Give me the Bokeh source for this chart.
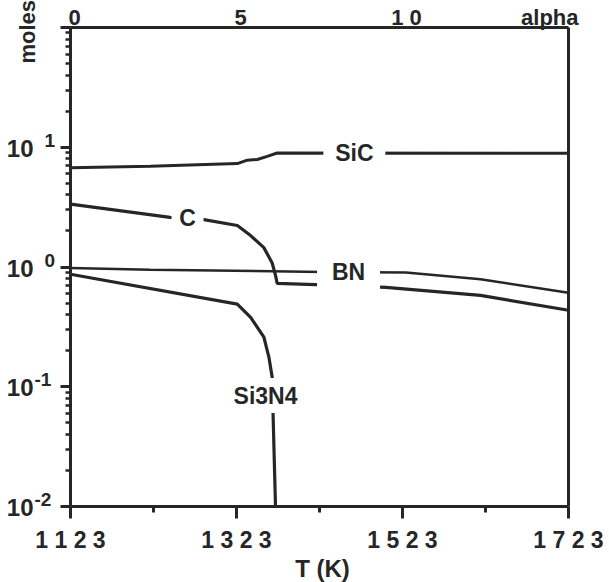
import math
from bokeh.plotting import figure
from bokeh.models import Range1d, FixedTicker, LogTicker, Label, LinearAxis
from bokeh.embed import file_html
from bokeh.resources import INLINE

# ---- data ----
sic_T = [1123, 1219, 1324, 1336, 1348, 1360, 1372, 1723]
sic_v = [6.75, 6.95, 7.3, 7.8, 7.9, 8.4, 8.95, 8.9]

c_T = [1123, 1243, 1282, 1324, 1340, 1356, 1366, 1370, 1372, 1427, 1503, 1617, 1723]
c_v = [3.35, 2.6, 2.5, 2.22, 1.83, 1.45, 1.08, 0.85, 0.73, 0.71, 0.675, 0.58, 0.435]

bn_T = [1123, 1219, 1427, 1527, 1617, 1723]
bn_v = [0.98, 0.95, 0.91, 0.90, 0.79, 0.61]

si3n4_T = [1123, 1324, 1340, 1356, 1362, 1366, 1367, 1370]
si3n4_v = [0.87, 0.49, 0.38, 0.26, 0.177, 0.12, 0.061, 0.01]

x_ticks = [1123, 1323, 1523, 1723]
x_minor = [1223, 1423, 1623]
x_tick_labels = ["1 1 2 3", "1 3 2 3", "1 5 2 3", "1 7 2 3"]
y_lo, y_hi = 0.01, 100
y_ticks = [0.01, 0.1, 1, 10]
y_exponents = ["-2", "-1", "0", "1"]
alpha_ticks = [0, 5, 10]
alpha_labels = ["0", "5", "1 0"]
alpha_end = 15
alpha_title = "alpha"
x_title = "T (K)"
y_title = "moles"
curve_names = ["SiC", "C", "BN", "Si3N4"]
label_T = [1465, 1264, 1458, 1358]
label_v = [9.0, 2.59, 0.90, 0.0845]

# ---- layout: the plotting box sits at these canvas pixels ----
INK = "#262626"
FONT = "Liberation Sans"
W, H = 609, 582
BOX_L, BOX_R, BOX_T, BOX_B = 70, 568, 27, 506

x0, x1 = x_ticks[0], x_ticks[-1]
kx = (x1 - x0) / (BOX_R - BOX_L)
ly0, ly1 = math.log10(y_lo), math.log10(y_hi)
ky = (ly1 - ly0) / (BOX_B - BOX_T)
xr = Range1d(x0 - BOX_L * kx, x1 + (W - BOX_R) * kx)
yr = Range1d(10 ** (ly0 - (H - BOX_B) * ky), 10 ** (ly1 + BOX_T * ky))
a_k = alpha_end / (BOX_R - BOX_L)
ar = Range1d(0 - BOX_L * a_k, alpha_end + (W - BOX_R) * a_k)

p = figure(width=W, height=H, x_range=xr, y_range=yr, y_axis_type="log",
           output_backend="svg", toolbar_location=None,
           min_border=0, min_border_left=0, min_border_right=0,
           min_border_top=0, min_border_bottom=0)
p.extra_x_ranges = {"alpha": ar}
p.background_fill_color = "white"
p.border_fill_color = "white"
p.outline_line_color = None
p.xgrid.visible = False
p.ygrid.visible = False

xa = p.xaxis[0]
xa.fixed_location = y_lo
xa.bounds = (x0, x1)
xa.ticker = FixedTicker(ticks=x_ticks, minor_ticks=x_minor)
xa.major_label_overrides = {t: s for t, s in zip(x_ticks, x_tick_labels)}
xa.axis_line_color = INK
xa.axis_line_width = 3
xa.major_tick_line_color = INK
xa.major_tick_line_width = 3
xa.minor_tick_line_color = INK
xa.minor_tick_line_width = 3
xa.major_tick_in = 0
xa.major_tick_out = 12
xa.minor_tick_in = 0
xa.minor_tick_out = 6
xa.major_label_text_font = FONT
xa.major_label_text_font_style = "bold"
xa.major_label_text_font_size = "23px"
xa.major_label_text_color = INK
xa.major_label_standoff = 8

ya = p.yaxis[0]
ya.fixed_location = x0
ya.bounds = (y_lo, y_hi)
ya.ticker = LogTicker(num_minor_ticks=10)
ya.major_label_text_color = None
ya.axis_line_color = INK
ya.axis_line_width = 3
ya.major_tick_line_color = INK
ya.major_tick_line_width = 3
ya.minor_tick_line_color = INK
ya.minor_tick_line_width = 2.5
ya.major_tick_in = 0
ya.major_tick_out = 10
ya.minor_tick_in = 0
ya.minor_tick_out = 5

# top and right edges of the box: plain axes without ticks or labels
for side, loc, bnds in (("above", y_hi, (x0, x1)), ("right", x1, (y_lo, y_hi))):
    ax = LinearAxis(fixed_location=loc, bounds=bnds, ticker=FixedTicker(ticks=[]),
                    axis_line_color=INK, axis_line_width=3,
                    major_tick_line_color=None, minor_tick_line_color=None,
                    major_label_text_color=None)
    p.add_layout(ax, side)

# ---- curves ----
p.line(sic_T, sic_v, line_color=INK, line_width=3)
p.line(c_T, c_v, line_color=INK, line_width=3.2)
p.line(bn_T, bn_v, line_color=INK, line_width=2.5)
p.line(si3n4_T, si3n4_v, line_color=INK, line_width=3.2)

# ---- curve labels: a white box breaks the line, text on top ----
box_w = [62, 32, 63, 76]
box_h = [30, 30, 34, 35]
p.rect(x=label_T, y=label_v, width=box_w, height=box_h,
       width_units="screen", height_units="screen",
       fill_color="white", line_color=None)
for name, t, v in zip(curve_names, label_T, label_v):
    p.add_layout(Label(x=t, y=v, text=name, text_align="center", text_baseline="middle",
                       text_font=FONT, text_font_style="bold", text_font_size="23px",
                       text_color=INK))

# ---- y tick labels: 10 with superscript exponent ----
for v, e in zip(y_ticks, y_exponents):
    p.add_layout(Label(x=x0, y=v, text="10", x_offset=-37, y_offset=-1,
                       text_align="right", text_baseline="middle",
                       text_font=FONT, text_font_style="bold", text_font_size="24px",
                       text_color=INK))
    p.add_layout(Label(x=x0, y=v, text=e,
                       x_offset=(-36 if e.startswith("-") else -26), y_offset=7,
                       text_align="left", text_baseline="middle",
                       text_font=FONT, text_font_style="bold", text_font_size="19px",
                       text_color=INK))

# ---- top alpha scale ----
for a, s in zip(alpha_ticks, alpha_labels):
    p.add_layout(Label(x=a, x_range_name="alpha", y=y_hi, y_offset=10, x_offset=4, text=s,
                       text_align="center", text_baseline="alphabetic",
                       text_font=FONT, text_font_style="bold", text_font_size="22px",
                       text_color=INK))
p.add_layout(Label(x=alpha_end, x_range_name="alpha", y=y_hi, y_offset=10, x_offset=10,
                   text=alpha_title, text_align="right", text_baseline="alphabetic",
                   text_font=FONT, text_font_style="bold", text_font_size="22px",
                   text_color=INK))

# ---- axis titles ----
p.add_layout(Label(x=(x0 + x1) / 2, y=y_lo, y_offset=-75, x_offset=3, text=x_title,
                   text_align="center", text_baseline="bottom",
                   text_font=FONT, text_font_style="bold", text_font_size="24px",
                   text_color=INK))
p.add_layout(Label(x=x0, y=y_hi, x_offset=-43, y_offset=-36, text=y_title,
                   angle=math.pi / 2, text_align="left", text_baseline="alphabetic",
                   text_font=FONT, text_font_style="bold", text_font_size="22px",
                   text_color=INK))

open("out.html", "w").write(file_html(p, INLINE))
